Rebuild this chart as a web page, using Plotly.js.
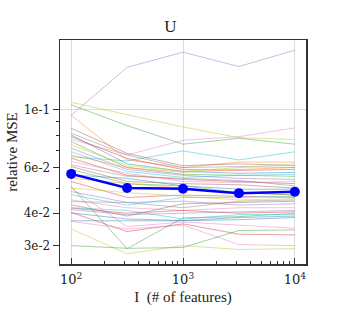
<!DOCTYPE html>
<html>
<head>
<meta charset="utf-8">
<script src="https://cdn.plot.ly/plotly-3.0.1.min.js"></script>
<style>html,body{margin:0;padding:0;background:#fff;}#chart{width:341px;height:331px;}</style>
</head>
<body>
<div id="chart"></div>
<script>
// x positions (number of features)
const features = [100, 316.2, 1000, 3162, 10000];

// thin per-run lines (relative MSE) and their colour names
const runValues = [
  [0.0954, 0.146, 0.167, 0.147, 0.170],
  [0.107, 0.0957, 0.086, 0.0782, 0.077],
  [0.1047, 0.0871, 0.0738, 0.0778, 0.0738],
  [0.0954, 0.0642, 0.0600, 0.0630, 0.0630],
  [0.0770, 0.0671, 0.0764, 0.0789, 0.0853],
  [0.0660, 0.0636, 0.0695, 0.0642, 0.0690],
  [0.0850, 0.0680, 0.0610, 0.0620, 0.0610],
  [0.0814, 0.0670, 0.0600, 0.0605, 0.0600],
  [0.0801, 0.0620, 0.0580, 0.0570, 0.0575],
  [0.0789, 0.0650, 0.0590, 0.0585, 0.0590],
  [0.0755, 0.0600, 0.0565, 0.0560, 0.0555],
  [0.0734, 0.0610, 0.0580, 0.0600, 0.0620],
  [0.0712, 0.0590, 0.0560, 0.0545, 0.0540],
  [0.0691, 0.0580, 0.0550, 0.0560, 0.0565],
  [0.0671, 0.0600, 0.0575, 0.0590, 0.0600],
  [0.0652, 0.0560, 0.0540, 0.0530, 0.0520],
  [0.0633, 0.0570, 0.0530, 0.0525, 0.0530],
  [0.0614, 0.0555, 0.0545, 0.0535, 0.0510],
  [0.0605, 0.0530, 0.0520, 0.0515, 0.0500],
  [0.0562, 0.0545, 0.0510, 0.0495, 0.0495],
  [0.0546, 0.0520, 0.0500, 0.0480, 0.0470],
  [0.0530, 0.0460, 0.0470, 0.0465, 0.0460],
  [0.0507, 0.0292, 0.0384, 0.0388, 0.0400],
  [0.0500, 0.0480, 0.0465, 0.0450, 0.0455],
  [0.0485, 0.0440, 0.0445, 0.0430, 0.0435],
  [0.0471, 0.0430, 0.0460, 0.0460, 0.0465],
  [0.0450, 0.0420, 0.0410, 0.0420, 0.0420],
  [0.0443, 0.0440, 0.0420, 0.0445, 0.0450],
  [0.0431, 0.0390, 0.0435, 0.0440, 0.0445],
  [0.0419, 0.0400, 0.0410, 0.0400, 0.0405],
  [0.0413, 0.0395, 0.0400, 0.0405, 0.0410],
  [0.0401, 0.0380, 0.0375, 0.0385, 0.0390],
  [0.0420, 0.0410, 0.0380, 0.0395, 0.0395],
  [0.0374, 0.0374, 0.0374, 0.0378, 0.0385],
  [0.0403, 0.0340, 0.0364, 0.0332, 0.0330],
  [0.0372, 0.0348, 0.0360, 0.0303, 0.0300],
  [0.0348, 0.0279, 0.0300, 0.0290, 0.0292],
  [0.0300, 0.0293, 0.0295, 0.0343, 0.0345],
  [0.0500, 0.0355, 0.0370, 0.0360, 0.0350],
  [0.0590, 0.0520, 0.0510, 0.0480, 0.0470]
];
const runColors = [
  'purple','olive','green','orange','pink','cyan','brown','gray','blue','red',
  'green','olive','purple','cyan','orange','red','pink','gray','brown','blue',
  'orange','red','green','olive','purple','cyan','pink','gray','brown','red',
  'purple','blue','cyan','blue','red','pink','olive','green','pink','green'
];

// mean line
const meanValues = [0.0567, 0.0500, 0.0497, 0.0478, 0.0484];

// tick labels
const xTickVals = [100, 1000, 10000];
const xTickText = ['10<sup>2</sup>', '10<sup>3</sup>', '10<sup>4</sup>'];
const yTickVals = [0.03, 0.04, 0.06, 0.1];
const yTickText = ['3e-2', '4e-2', '6e-2', '1e-1'];

const palette = {
  blue:'rgba(31,119,180,0.5)', orange:'rgba(255,127,14,0.5)', green:'rgba(44,160,44,0.5)',
  red:'rgba(214,39,40,0.5)', purple:'rgba(148,103,189,0.5)', brown:'rgba(140,86,75,0.5)',
  pink:'rgba(227,119,194,0.5)', gray:'rgba(127,127,127,0.5)', olive:'rgba(188,189,34,0.5)',
  cyan:'rgba(23,190,207,0.5)'
};

const traces = runValues.map((v, i) => ({
  x: features, y: v, type: 'scatter', mode: 'lines',
  line: {color: palette[runColors[i]], width: 0.9}, hoverinfo: 'skip'
}));
traces.push({
  x: features, y: meanValues, type: 'scatter', mode: 'lines+markers',
  line: {color: '#0000ff', width: 2.5}, marker: {color: '#0000ff', size: 10}
});
// invisible trace on overlay axis that carries the 1e-1 grid line
traces.push({x: [features[0]], y: [meanValues[0]], yaxis: 'y2', mode: 'markers',
  marker: {opacity: 0}, hoverinfo: 'skip'});

const allY = runValues.flat().concat(meanValues);
const lmin = Math.log10(Math.min(...allY)), lmax = Math.log10(Math.max(...allY));
const pad = (lmax - lmin) * 0.05;
const yRange = [lmin - pad, lmax + pad];
const lx0 = Math.log10(features[0]), lx1 = Math.log10(features[features.length - 1]);
const xpad = (lx1 - lx0) * 0.05;
const xRange = [lx0 - xpad, lx1 + xpad];

const titleFamily = 'Liberation Serif, DejaVu Serif, serif';
const tickFamily = 'DejaVu Serif, Liberation Serif, serif';
const ink = '#222';
const xMinor = [];
[100, 1000].forEach(d => { for (let k = 2; k <= 9; k++) xMinor.push(d * k); });
const yMinor = [0.03, 0.04, 0.05, 0.06, 0.07, 0.08, 0.09];

const layout = {
  width: 341, height: 331,
  margin: {l: 60, r: 35, t: 40, b: 67},
  paper_bgcolor: '#fff', plot_bgcolor: '#fff',
  showlegend: false, hovermode: false,
  font: {family: titleFamily, size: 13, color: ink},
  title: {text: 'U', x: 0.5, xanchor: 'center', y: 1, yref: 'paper', yanchor: 'bottom',
          pad: {b: 8}, font: {family: titleFamily, size: 17, color: ink}},
  xaxis: {
    type: 'log', range: xRange, tickvals: xTickVals, ticktext: xTickText,
    ticks: 'inside', ticklen: 6, tickwidth: 1, tickcolor: '#333',
    ticklabelstandoff: 3,
    showgrid: true, gridcolor: '#dddddd', gridwidth: 1,
    showline: true, linecolor: '#333', linewidth: 1.5, mirror: true,
    zeroline: false, tickfont: {family: tickFamily, size: 13, color: ink},
    minor: {tickvals: xMinor, ticks: 'inside', ticklen: 3, tickcolor: '#333', showgrid: false},
    title: {text: 'I&nbsp;&nbsp;(# of features)', standoff: 5,
            font: {family: titleFamily, size: 15, color: ink}}
  },
  yaxis: {
    type: 'log', range: yRange, tickvals: yTickVals, ticktext: yTickText,
    ticks: 'outside', ticklen: 6, tickwidth: 1, tickcolor: '#333',
    showgrid: false, showline: true, linecolor: '#333', linewidth: 1.5, mirror: true,
    zeroline: false, tickfont: {family: tickFamily, size: 12, color: ink},
    minor: {tickvals: yMinor, ticks: 'outside', ticklen: 3, tickcolor: '#333', showgrid: false},
    title: {text: 'relative MSE', standoff: 2, font: {family: titleFamily, size: 15, color: ink}}
  },
  yaxis2: {
    type: 'log', range: yRange, overlaying: 'y', side: 'left',
    tickvals: [0.1], showticklabels: false, ticks: '',
    showgrid: true, gridcolor: '#dddddd', gridwidth: 1, zeroline: false, showline: false
  }
};

Plotly.newPlot('chart', traces, layout, {staticPlot: true, displayModeBar: false});
</script>
</body>
</html>
